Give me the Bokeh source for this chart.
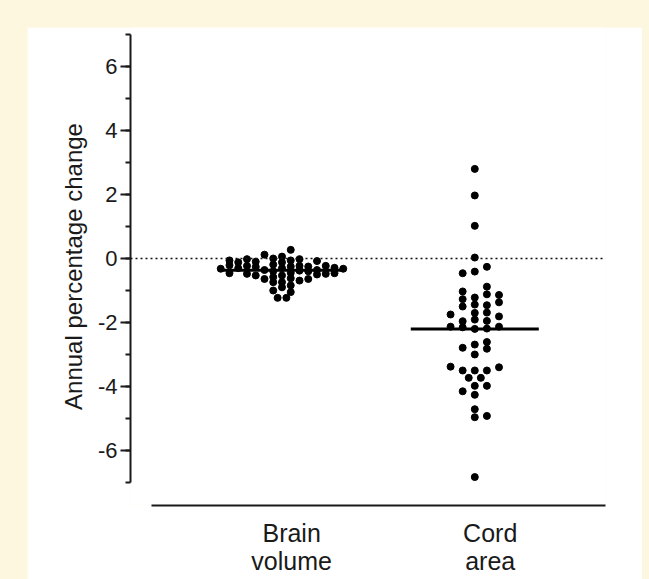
from bokeh.plotting import figure
from bokeh.models import Range1d, SingleIntervalTicker, FixedTicker, Span
from bokeh.layouts import column
from bokeh.embed import file_html
from bokeh.resources import INLINE

# ---------------- data ----------------
group_names = ["Brain volume", "Cord area"]
group_labels = ["Brain\nvolume", "Cord\narea"]
group_pos = [1, 2]
label_pos = [1.05, 2.08]

y_ticks = [-6, -4, -2, 0, 2, 4, 6]
y_tick_labels = ["-6", "-4", "-2", "0", "2", "4", "6"]

# beeswarm column slot of each dot and its value (annual % change)
brain_slot = [-7,
              -6, -6, -6,
              -5, -5,
              -4, -4, -4,
              -3, -3, -3,
              -2, -2, -2,
              -1, -1, -1, -1, -1, -1,
              0, 0, 0, 0, 0, 0,
              1, 1, 1, 1, 1, 1, 1,
              2, 2, 2, 2,
              3, 3, 3,
              4, 4, 4,
              5, 5,
              6, 6,
              7,
              -0.5, 0.5]
brain_value = [-0.32,
               -0.06, -0.21, -0.46,
               -0.12, -0.30,
               -0.02, -0.23, -0.48,
               -0.10, -0.26, -0.53,
               0.12, -0.36, -0.64,
               0.00, -0.19, -0.40, -0.58, -0.74, -1.00,
               0.06, -0.12, -0.30, -0.53, -0.74, -0.90,
               0.27, -0.06, -0.25, -0.45, -0.62, -0.84, -1.05,
               -0.02, -0.23, -0.38, -0.69,
               -0.25, -0.40, -0.64,
               -0.08, -0.36, -0.50,
               -0.23, -0.48,
               -0.29, -0.46,
               -0.32,
               -1.23, -1.23]

cord_slot = [0, 0, 0, 0,
             -1, 0, 1,
             -1, -1, -1, 0, 0, 1, 1, 1, 2, 2,
             -2, 0, 1, 2,
             -1, 0, 1,
             -2, -1, 0, 1, 2,
             -1, 0, 0, 1, 1,
             -2, -1, 0, 1, 2,
             -0.5, 0.5,
             0, 1, -1, 0,
             0, 0, 1,
             0]
cord_value = [2.80, 1.97, 1.02, 0.03,
              -0.46, -0.41, -0.26,
              -1.03, -1.27, -1.50, -1.22, -1.44, -0.88, -1.12, -1.46, -1.14, -1.37,
              -1.75, -1.70, -1.69, -1.81,
              -1.96, -1.91, -1.95,
              -2.13, -2.15, -2.20, -2.19, -2.13,
              -2.79, -2.69, -3.00, -2.61, -2.82,
              -3.38, -3.50, -3.50, -3.50, -3.40,
              -3.73, -3.73,
              -3.98, -3.98, -4.15, -4.26,
              -4.71, -4.96, -4.92,
              -6.83]

medians = [-0.37, -2.20]

# ---------------- layout constants ----------------
BG = "#FEF7E0"
INK = "#1a1a1a"
FONT = "Liberation Sans"
brain_step = 0.0454
cord_step = 0.0628
median_half = 0.332

p = figure(width=615, height=552, output_backend="svg", toolbar_location=None,
           x_range=Range1d(0.2142, 2.678), y_range=Range1d(-7.719, 7.219),
           min_border_left=103, min_border_right=37, min_border_top=0,
           min_border_bottom=74, background_fill_color="white",
           border_fill_color="white", outline_line_color=None)
p.margin = (27, 7, 0, 27)
p.grid.visible = False

yax = p.yaxis[0]
yax.ticker = SingleIntervalTicker(interval=2, num_minor_ticks=2)
yax.major_label_overrides = {t: s for t, s in zip(y_ticks, y_tick_labels)}
yax.bounds = (-7, 7)
yax.axis_line_width = 2
yax.axis_line_color = INK
yax.major_tick_line_width = 2
yax.major_tick_line_color = INK
yax.major_tick_out = 10
yax.major_tick_in = 0
yax.minor_tick_line_width = 2
yax.minor_tick_line_color = INK
yax.minor_tick_out = 5
yax.minor_tick_in = 0
yax.major_label_text_font = FONT
yax.major_label_text_font_size = "22px"
yax.major_label_text_color = INK
yax.major_label_standoff = 3
yax.axis_label = "Annual percentage change"
yax.axis_label_text_font = FONT
yax.axis_label_text_font_size = "24px"
yax.axis_label_text_font_style = "normal"
yax.axis_label_text_color = INK
yax.axis_label_standoff = 8

xax = p.xaxis[0]
xax.ticker = FixedTicker(ticks=label_pos)
xax.major_label_overrides = {lp: lab for lp, lab in zip(label_pos, group_labels)}
xax.bounds = (0.3257, 2.678)
xax.axis_line_width = 2
xax.axis_line_color = INK
xax.major_tick_out = 0
xax.major_tick_in = 0
xax.minor_tick_out = 0
xax.minor_tick_in = 0
xax.major_label_text_font = FONT
xax.major_label_text_font_size = "25px"
xax.major_label_text_color = INK
xax.major_label_text_line_height = 1.0
xax.major_label_standoff = 13

p.add_layout(Span(location=0, dimension="width", line_color="#111111",
                  line_width=1.5, line_dash="2 3"))

bx = [group_pos[0] + s * brain_step for s in brain_slot]
cx = [group_pos[1] + s * cord_step for s in cord_slot]
p.scatter(bx, brain_value, size=7, color="black")
p.scatter(cx, cord_value, size=7, color="black")

p.segment(x0=[g - median_half for g in group_pos], x1=[g + median_half for g in group_pos],
          y0=medians, y1=medians, line_width=3, line_color="black")

lay = column(p, width=649, height=579,
             styles={"background-color": BG, "position": "absolute",
                     "top": "0px", "left": "0px"})

open("out.html", "w").write(file_html(lay, INLINE))
